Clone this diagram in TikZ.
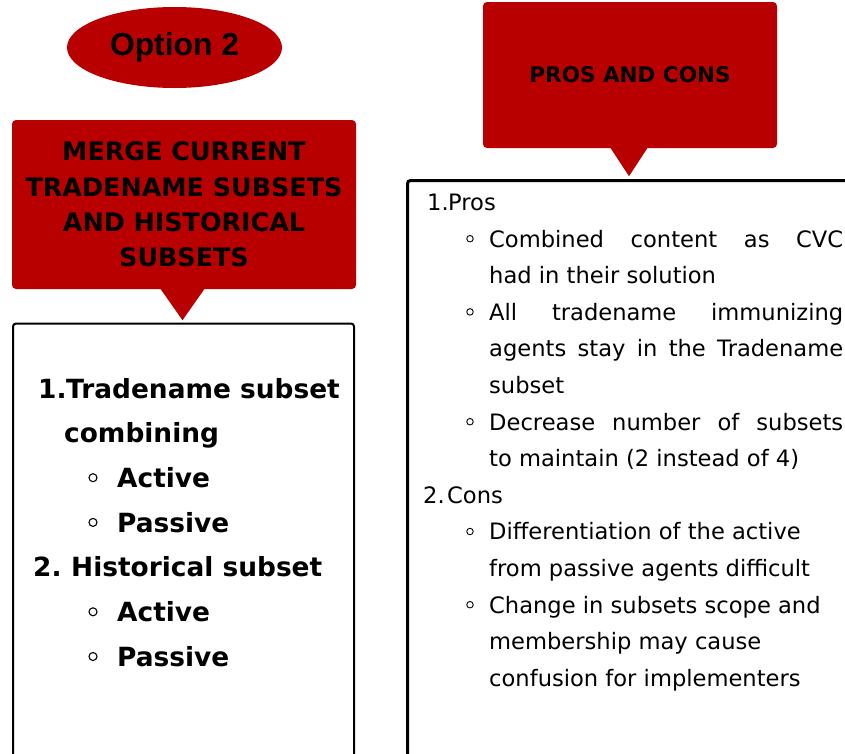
\documentclass[tikz,border=0pt]{standalone}
\usepackage{fontspec}
\setmainfont{DejaVu Sans}
\newfontfamily\optfont{Liberation Sans}
\usetikzlibrary{shapes.geometric,calc}
\definecolor{boxred}{RGB}{184,0,0}
\begin{document}
\begin{tikzpicture}[x=1pt,y=-1pt,
  redbox/.style={fill=boxred, rounded corners=4pt, inner sep=0pt, align=center, text=black},
  whitebox/.style={draw=black, fill=white, rounded corners=3pt, inner sep=0pt, outer sep=0pt, anchor=north west},
  boldtxt/.style={font=\fontsize{26.4}{44.7}\selectfont\bfseries, inner sep=0pt, anchor=base west},
  regtxt/.style={font=\fontsize{22.6}{36.6}\selectfont, inner sep=0pt, anchor=base west},
  lbul/.style={circle, draw=black, fill=white, inner sep=0pt, minimum size=8pt, line width=1.1pt},
  rbul/.style={circle, draw=black, fill=white, inner sep=0pt, minimum size=6.5pt, line width=0.9pt},
]
\useasboundingbox (0,0) rectangle (845,753);
\clip (0,0) rectangle (845,753);

% Option 2 ellipse
\node[ellipse, fill=boxred, minimum width=215pt, minimum height=81pt, inner sep=0pt,
      font=\optfont\fontsize{31.8}{36}\selectfont\bfseries] (opt) at (174.5,47.5) {Option 2};

% left red box
\node[redbox, minimum width=344pt, minimum height=169pt,
      font=\fontsize{25.4}{35.3}\selectfont\bfseries] (merge) at (184,204.5)
      {MERGE CURRENT\\TRADENAME SUBSETS\\AND HISTORICAL\\SUBSETS};
\fill[boxred] ($(merge.south)+(-24,-1)$) -- ($(merge.south)+(21,-1)$) -- ($(merge.south)+(-1.5,31)$) -- cycle;

% left white box
\node[whitebox, line width=2pt, minimum width=341pt, minimum height=480pt] (leftbox) at (13,323.5) {};

% right red box
\node[redbox, minimum width=294pt, minimum height=146pt,
      font=\fontsize{21.5}{26}\selectfont\bfseries] (pros) at (630,75) {PROS AND CONS};
\fill[boxred] ($(pros.south)+(-20,-1)$) -- ($(pros.south)+(18,-1)$) -- ($(pros.south)+(-1,28)$) -- cycle;

% right white box
\node[whitebox, line width=3pt, minimum width=480pt, minimum height=620pt] (rightbox) at (407.5,180.5) {};

% left text
\node[boldtxt] (ln1) at (38,398) {1.};
\node[boldtxt] (lt1) at (66,398) {Tradename subset};
\node[boldtxt] (lt2) at (64,442.7) {combining};
\node[lbul] (lb1) at (93,477.7) {};
\node[boldtxt] (lt3) at (117,487.4) {Active};
\node[lbul] (lb2) at (93,522.4) {};
\node[boldtxt] (lt4) at (117,532.1) {Passive};
\node[boldtxt] (ln2) at (33,576.8) {2.};
\node[boldtxt] (lt5) at (71,576.8) {Historical subset};
\node[lbul] (lb3) at (93,611.8) {};
\node[boldtxt] (lt6) at (117,621.5) {Active};
\node[lbul] (lb4) at (93,656.5) {};
\node[boldtxt] (lt7) at (117,666.2) {Passive};

% right text
\node[regtxt] (rn1) at (427,210.4) {1.};
\node[regtxt] (rt0) at (448,210.4) {Pros};
\node[rbul] (rb1) at (470,238.7) {};
\node[regtxt] (rt1) at (489,247) {\makebox[354pt][s]{Combined content as CVC}};
\node[regtxt] (rt2) at (489,283.6) {had in their solution};
\node[rbul] (rb2) at (470,311.9) {};
\node[regtxt] (rt3) at (489,320.2) {\makebox[354pt][s]{All tradename immunizing}};
\node[regtxt] (rt4) at (489,356.8) {\makebox[354pt][s]{agents stay in the Tradename}};
\node[regtxt] (rt5) at (489,393.4) {subset};
\node[rbul] (rb3) at (470,421.7) {};
\node[regtxt] (rt6) at (489,430) {\makebox[354pt][s]{Decrease number of subsets}};
\node[regtxt] (rt7) at (489,466.6) {to maintain (2 instead of 4)};
\node[regtxt] (rn2) at (423,503.2) {2.};
\node[regtxt] (rt8) at (447,503.2) {Cons};
\node[rbul] (rb4) at (470,531.5) {};
\node[regtxt] (rt9) at (489,539.8) {Differentiation of the active};
\node[regtxt] (rt10) at (489,576.4) {from passive agents difficult};
\node[rbul] (rb5) at (470,604.7) {};
\node[regtxt] (rt11) at (489,613) {Change in subsets scope and};
\node[regtxt] (rt12) at (489,649.6) {membership may cause};
\node[regtxt] (rt13) at (489,686.2) {confusion for implementers};
\end{tikzpicture}
\end{document}
